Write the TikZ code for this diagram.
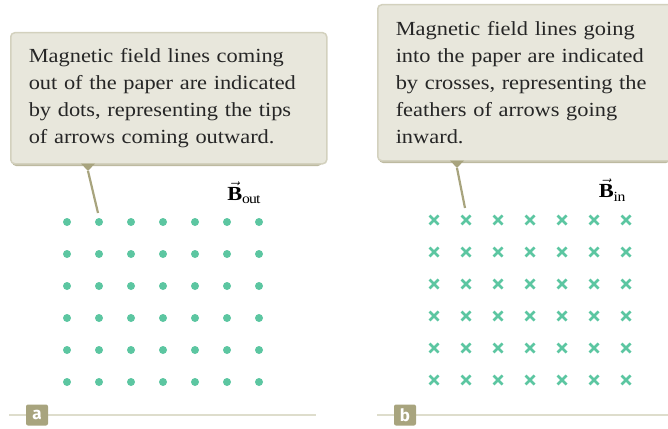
\documentclass[tikz,border=0pt]{standalone}
\usepackage{fontspec}
\setmainfont{Liberation Serif}[FakeStretch=1.12]
\newfontfamily\labfont{Fira Sans}
\usetikzlibrary{calc}
\definecolor{boxfill}{HTML}{E8E7DC}
\definecolor{boxedge}{HTML}{D3D1BE}
\definecolor{boxshadow}{HTML}{BDBAA0}
\definecolor{olive}{HTML}{A8A47E}
\definecolor{teal}{HTML}{5CC6A1}
\definecolor{rule}{HTML}{DEDDCC}
\tikzset{
  calloutbox/.style={draw=boxedge, line width=1.5pt, fill=boxfill, rounded corners=4pt,
    anchor=north west, inner xsep=18pt, align=left, font=\fontsize{20}{27}\selectfont,
    text=black!85},
  shadowbox/.style={fill=boxshadow, rounded corners=4pt},
  pointer/.style={draw=olive, line width=2.2pt},
  pointertip/.style={fill=olive},
  fielddot/.style={fill=teal},
  fieldcross/.style={draw=teal, line width=2.8pt},
  partlabel/.style={fill=olive, rounded corners=2pt, text=white, font=\labfont\bfseries\fontsize{17}{17}\selectfont,
    minimum width=22pt, minimum height=21pt, inner sep=0pt},
  partrule/.style={draw=rule, line width=2pt},
  fieldlabel/.style={font=\fontsize{20}{20}\selectfont}
}
\begin{document}
\begin{tikzpicture}[x=1pt,y=-1pt]
\useasboundingbox (0,0) rectangle (668,428);
% ---- part a ----
\fill[shadowbox] (12,35) rectangle (322,166);
\node[calloutbox, minimum width=310pt, minimum height=131pt, text width=280pt] (boxa) at (10,32)
  {Magnetic field lines coming\\out of the paper are indicated\\by dots, representing the tips\\of arrows coming outward.};
\coordinate (ta) at (88,171);
\fill[pointertip] (81,163.5) -- (95,163.5) -- (ta) -- cycle;
\coordinate (pa) at (98,213);
\draw[pointer] (ta) -- (pa);
\foreach \i in {0,...,6}
  \foreach \j in {0,...,5}
    \fill[fielddot] ({67+32*\i},{222+32*\j}) circle (4pt);
\node[fieldlabel] (Bout) at (244,193) {$\vec{\mathbf{B}}_{\kern1.5pt\mathrm{out}}$};
\coordinate (ra1) at (9,415);
\coordinate (ra2) at (316,415);
\draw[partrule] (ra1) -- (ra2);
\node[partlabel] (la) at (37,415) {a};
% ---- part b ----
\fill[shadowbox] (379,7) rectangle (670,163);
\node[calloutbox, minimum width=291pt, minimum height=156pt, text width=270pt] (boxb) at (377,4)
  {Magnetic field lines going\\into the paper are indicated\\by crosses, representing the\\feathers of arrows going\\inward.};
\coordinate (tb) at (457,168);
\fill[pointertip] (450,160.5) -- (464,160.5) -- (tb) -- cycle;
\coordinate (pb) at (465,208);
\draw[pointer] (tb) -- (pb);
\foreach \i in {0,...,6}
  \foreach \j in {0,...,5}
    \draw[fieldcross] ({434+32*\i-4.5},{220+32*\j-4.5}) -- ++(9,9) ({434+32*\i-4.5},{220+32*\j+4.5}) -- ++(9,-9);
\node[fieldlabel] (Bin) at (612,190) {$\vec{\mathbf{B}}_{\kern1.5pt\mathrm{in}}$};
\coordinate (rb1) at (377,415);
\coordinate (rb2) at (668,415);
\draw[partrule] (rb1) -- (rb2);
\node[partlabel] (lb) at (405,415) {b};
\end{tikzpicture}
\end{document}
